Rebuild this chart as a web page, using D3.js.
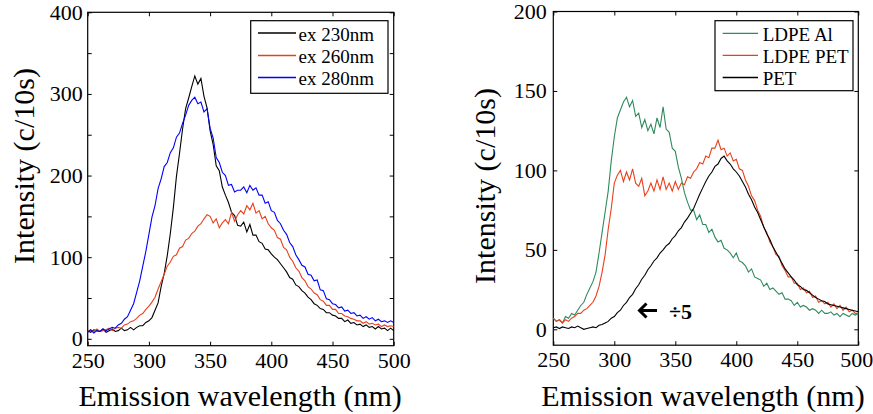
<!DOCTYPE html>
<html><head><meta charset="utf-8">
<script src="https://cdn.jsdelivr.net/npm/d3@7"></script>
<style>
body{margin:0;background:#fff}
</style>
</head><body>
<svg id="c" width="873" height="414" style="font-family:'Liberation Serif'"></svg>
<script>
// ---------- DATA ----------
const wavelengths = d3.range(250, 500.001, 2.5); // 101 points, 250..500 nm
const xTicks = [250, 300, 350, 400, 450, 500];
const leftYTicks = [0, 50, 100, 150, 200, 250, 300, 350, 400];
const leftYLabels = [0, 100, 200, 300, 400];
const rightYTicks = [0, 50, 100, 150, 200];
const leftNames = ["ex 230nm", "ex 260nm", "ex 280nm"];
const rightNames = ["LDPE Al", "LDPE PET", "PET"];

const ex230 = [
10,8,11,10,9,12,8,10,12,9,
10,13,10,11,14,11,14,16,16,20,
22,26,35,44,64,80,102,129,161,199,
227,257,282,295,309,322,312,319,297,283,
255,238,212,206,186,176,167,155,151,139,
138,143,131,140,127,127,119,117,110,109,
104,100,97,92,87,82,75,73,66,64,
59,56,51,48,43,41,37,36,32,32,
29,28,25,25,21,23,19,20,17,18,
15,17,14,15,12,15,12,13,10,13,
10];
const ex260 = [
9,11,8,12,9,10,11,13,10,13,
14,13,17,18,21,22,25,29,31,36,
40,45,51,61,70,79,89,94,101,103,
111,113,121,123,129,132,138,141,147,152,
150,142,147,136,142,146,141,155,144,152,
157,153,163,158,166,154,157,147,150,141,
136,133,124,122,112,109,100,95,87,83,
75,71,64,61,56,54,48,46,41,41,
36,36,31,31,28,27,25,24,22,22,
19,21,18,19,17,18,15,17,15,16,
15];
const ex280 = [
8,11,7,10,9,12,10,12,14,13,
17,19,24,27,35,43,57,71,89,107,
128,149,163,184,196,211,216,228,234,247,
252,264,274,286,292,296,288,290,278,282,
258,246,222,216,204,200,188,189,180,182,
182,186,179,188,182,185,176,176,166,168,
157,155,145,141,133,128,118,113,103,97,
90,88,79,78,71,72,60,59,49,48,
43,42,38,39,34,35,31,32,28,29,
25,27,24,26,22,24,21,22,20,22,
20];
const ldpeAl = [
7,5,6,4,8,7,10,9,12,15,
17,22,26,30,36,48,61,74,87,106,
121,133,138,143,146,140,144,134,136,127,
132,125,129,123,133,127,140,126,124,114,
112,102,95,86,80,75,75,69,72,66,
66,61,63,58,55,56,51,50,48,45,
48,43,42,40,36,38,33,32,31,27,
29,25,26,24,22,23,19,19,18,15,
17,14,15,14,12,13,12,10,12,10,
10,11,9,10,8,10,9,8,10,9,
10];
const ldpePet = [
7,5,6,4,6,5,7,8,10,10,
12,13,15,17,21,27,36,47,63,76,
92,97,100,93,99,94,101,92,90,95,
84,87,92,87,94,88,96,88,92,87,
93,88,92,91,96,95,99,101,105,104,
109,108,114,114,119,113,114,109,111,106,
107,101,100,94,90,84,81,75,71,64,
61,55,52,47,46,40,37,33,33,29,
29,25,26,23,24,20,21,17,18,16,
17,14,16,13,15,12,14,11,12,10,
10];
const pet = [
1,1.5,0.5,1.5,1,0.5,1.5,1,2,1,
0,0.5,1,1.5,1,2.5,3,4,5,7,
8,10.5,12,15,17,20,22,25.5,28,31.5,
34,37.5,40,43,45,48,50,52.5,54,57,
59,62,64,67.5,70,73,76,80.5,85,89,
93,96.5,99,102.5,104,107.5,109,106,104,101,
99,96.5,93,89.5,85,81.5,77,73.5,69,64.5,
60,56.5,52,48.5,45,41.5,38,35.5,33,31,
28,27,25,24.5,23,21.5,20,19,18,17.5,
16,15.5,15,14.5,14,13.5,13,12.5,12,11.5,
11];

// ---------- STYLE / LAYOUT ----------
const FONT = "Liberation Serif";
const svg = d3.select("#c");
const tickFont = 22, titleFont = 30, legendFont = 19;

function panel(cfg) {
  const x = d3.scaleLinear().domain([250, 500]).range([cfg.x0, cfg.x1]);
  const y = d3.scaleLinear().domain(cfg.yDomain).range([cfg.yBottom, cfg.yTop]);
  const g = svg.append("g");
  const TS = 4;

  const ax = (gen, tr) => g.append("g").attr("transform", tr).call(gen)
     .call(s => s.select(".domain").remove());
  const bottom = ax(d3.axisBottom(x).tickValues(xTicks).tickSize(-TS).tickPadding(6.5).tickFormat(d3.format("d")),
     `translate(0,${cfg.yBottom})`);
  ax(d3.axisTop(x).tickValues(xTicks).tickSize(-TS).tickFormat(""), `translate(0,${cfg.yTop})`);
  ax(d3.axisLeft(y).tickValues(cfg.yTicks).tickSize(-TS).tickPadding(cfg.yPad)
     .tickFormat(d => cfg.yLabels.includes(d) ? d : ""), `translate(${cfg.x0},0)`);
  ax(d3.axisRight(y).tickValues(cfg.yTicks).tickSize(-TS).tickFormat(""), `translate(${cfg.x1},0)`);
  g.selectAll("g").attr("font-family", FONT).attr("font-size", tickFont);
  g.selectAll(".tick line").attr("stroke", "#000");
  g.selectAll(".tick text").style("font-size", tickFont + "px")
     .style("font-family", FONT).attr("fill", "#000");
  if (cfg.lastXDx) bottom.selectAll(".tick text").filter(d => d === 500).attr("dx", cfg.lastXDx);

  g.append("rect").attr("x", cfg.x0).attr("y", cfg.yTop)
   .attr("width", cfg.x1 - cfg.x0).attr("height", cfg.yBottom - cfg.yTop)
   .attr("fill", "none").attr("stroke", "#000").attr("stroke-width", 1.2);

  const line = d3.line().x((d, i) => x(wavelengths[i])).y(d => y(d));
  cfg.series.forEach(s => {
    g.append("path").datum(s.values).attr("d", line)
     .attr("fill", "none").attr("stroke", s.color).attr("stroke-width", 1.1)
     .attr("stroke-linejoin", "miter");
  });

  const L = cfg.legend;
  g.append("rect").attr("x", L.x).attr("y", L.y).attr("width", L.w).attr("height", L.h)
   .attr("fill", "#fff").attr("stroke", "#000").attr("stroke-width", 1.2);
  cfg.series.forEach((s, i) => {
    const ly = L.rows[i];
    g.append("line").attr("x1", L.lx0).attr("x2", L.lx1).attr("y1", ly).attr("y2", ly)
     .attr("stroke", s.color).attr("stroke-width", 1.3);
    g.append("text").attr("x", L.tx).attr("y", ly + 7.5).text(s.name)
     .style("font-family", FONT).style("font-size", legendFont + "px").attr("fill", "#000");
  });

  g.append("text").attr("x", (cfg.x0 + cfg.x1) / 2 + cfg.xtDx).attr("y", 406)
   .attr("text-anchor", "middle").style("font-family", FONT).style("font-size", titleFont + "px")
   .attr("fill", "#000").text("Emission wavelength (nm)");
  g.append("text").attr("transform", `translate(${cfg.ytX},${cfg.ytY}) rotate(-90)`)
   .attr("text-anchor", "middle").style("font-family", FONT).style("font-size", titleFont + "px")
   .attr("fill", "#000").text("Intensity (c/10s)");
  return {x, y, g};
}

panel({
  x0: 87.7, x1: 393.7, yTop: 12.3, yBottom: 345.7, yDomain: [-8.45, 400],
  yTicks: leftYTicks, yLabels: leftYLabels, yPad: 5,
  xtDx: -0.5, ytX: 34, ytY: 166,
  series: [
    {name: leftNames[0], values: ex230, color: "#000000"},
    {name: leftNames[1], values: ex260, color: "#e8401c"},
    {name: leftNames[2], values: ex280, color: "#0000ff"}
  ],
  legend: {x: 250.7, y: 20.7, w: 137.3, h: 72.6, lx0: 258, lx1: 296, tx: 298.5, rows: [33, 55.5, 77.5]}
});

const R = panel({
  x0: 553.3, x1: 858.3, yTop: 11.5, yBottom: 345.2, yDomain: [-10, 200],
  yTicks: rightYTicks, yLabels: rightYTicks, yPad: 6.5,
  xtDx: -2.8, ytX: 495, ytY: 186, lastXDx: -2,
  series: [
    {name: rightNames[0], values: ldpeAl, color: "#2e8b5e"},
    {name: rightNames[1], values: ldpePet, color: "#e8401c"},
    {name: rightNames[2], values: pet, color: "#000000"}
  ],
  legend: {x: 715, y: 20.7, w: 138, h: 70, lx0: 722.7, lx1: 758, tx: 762.7, rows: [33.3, 55.3, 77.5]}
});

const ag = R.g.append("g");
ag.append("path").attr("d", "M657,310.5 L639.5,310.5 M646.5,303.5 L639.5,310.5 L646.5,317.5")
  .attr("fill", "none").attr("stroke", "#000").attr("stroke-width", 3).attr("stroke-linecap", "butt");
ag.append("text").attr("x", 669).attr("y", 319).text("÷5")
  .style("font-family", FONT).style("font-size", "22px").style("font-weight", "bold").attr("fill", "#000");
</script>
</body></html>
